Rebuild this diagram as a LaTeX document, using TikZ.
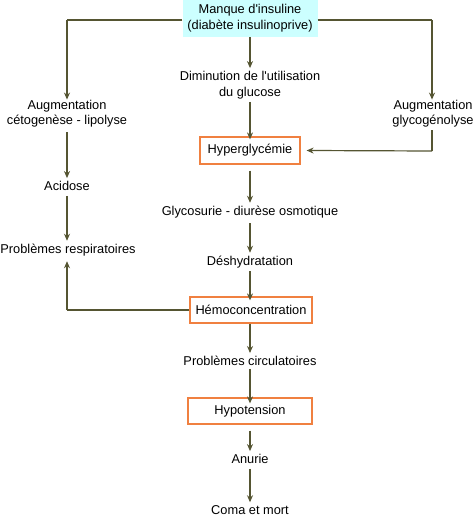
\documentclass[tikz,border=0pt]{standalone}
\usepackage{fontspec}
\setmainfont{Liberation Sans}
\usetikzlibrary{arrows.meta}
\definecolor{lin}{RGB}{85,85,50}
\definecolor{boxline}{RGB}{240,128,64}
\definecolor{topfill}{RGB}{204,255,255}
\begin{document}
\begin{tikzpicture}[x=1pt,y=-1pt,
  txt/.style={font=\fontsize{12.8}{15.5}\selectfont, align=center, inner sep=0pt},
  obox/.style={draw=boxline, line width=1.2pt, font=\fontsize{12.8}{15.5}\selectfont, inner sep=0pt},
  arr/.style={draw=lin, line width=1.2pt, -{Stealth[length=7pt,width=6pt]}},
  ln/.style={draw=lin, line width=1.2pt}]
\useasboundingbox (0,0) rectangle (474,516);
\node[txt, fill=topfill, minimum width=135pt, minimum height=37pt, font=\fontsize{12.8}{16}\selectfont] (top) at (250,18.5) {Manque d\textquotesingle insuline\\(diabète insulinoprive)};
\node[txt] (dim) at (250,85) {Diminution de l\textquotesingle utilisation\\du glucose};
\node[obox, minimum width=100pt, minimum height=27pt] (hyp) at (250,150.5) {Hyperglycémie};
\node[txt] (gly) at (250,212) {Glycosurie - diurèse osmotique};
\node[txt] (des) at (250,262) {Déshydratation};
\node[obox, minimum width=122pt, minimum height=26pt] (hemo) at (251,310) {Hémoconcentration};
\node[txt] (circ) at (250,361) {Problèmes circulatoires};
\node[obox, minimum width=124pt, minimum height=26pt] (hypo) at (250,411) {Hypotension};
\node[txt] (anu) at (250,459) {Anurie};
\node[txt] (coma) at (250,510) {Coma et mort};
\node[txt] (ceto) at (67,113.5) {Augmentation\\cétogenèse - lipolyse};
\node[txt] (acid) at (67,186) {Acidose};
\node[txt] (resp) at (68,250) {Problèmes respiratoires};
\node[txt] (glyco) at (433,113.5) {Augmentation\\glycogénolyse};
\coordinate (tl) at (67,20);
\coordinate (tr) at (432,20);
\coordinate (rc) at (432,151);
\coordinate (lc) at (67,310);
\draw[ln] (top.west |- tl) -- (tl);
\draw[arr] (tl) -- (ceto.north -| tl);
\draw[ln] (top.east |- tr) -- (tr);
\draw[arr] (tr) -- (glyco.north -| tr);
\draw[arr] (top.south) -- ([yshift=3pt]dim.north);
\draw[arr] ([yshift=-3pt]dim.south) -- ([yshift=-3pt]hyp.north);
\draw[arr] ([yshift=-5pt]ceto.south) -- ([yshift=3pt]acid.north);
\draw[arr] ([yshift=-5pt]acid.south) -- ([yshift=3pt]resp.north -| acid.south);
\draw[ln] ([yshift=-3pt]glyco.south -| tr) -- (rc);
\draw[arr] (rc) -- ([xshift=6pt]hyp.east);
\draw[arr] ([yshift=-6pt]hyp.south) -- ([yshift=3pt]gly.north);
\draw[arr] ([yshift=-5pt]gly.south) -- ([yshift=3pt]des.north);
\draw[arr] ([yshift=-3pt]des.south) -- ([yshift=-4pt]hemo.north -| des.south);
\draw[ln] (hemo.west) -- (lc);
\draw[arr] (lc) -- ([yshift=-5pt]resp.south -| lc);
\draw[arr] (hemo.south -| circ.north) -- ([yshift=3pt]circ.north);
\draw[arr] ([yshift=-3pt]circ.south) -- ([yshift=-6pt]hypo.north);
\draw[arr] ([yshift=-6pt]hypo.south) -- ([yshift=3pt]anu.north);
\draw[arr] ([yshift=-5pt]anu.south) -- ([yshift=3pt]coma.north);
\end{tikzpicture}
\end{document}
